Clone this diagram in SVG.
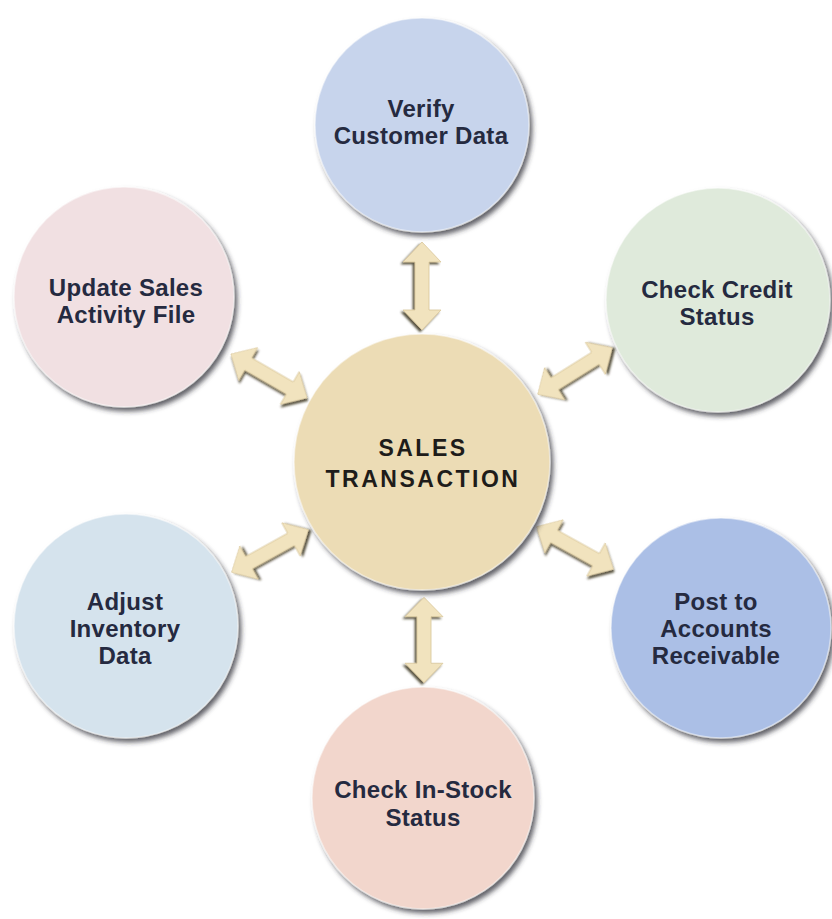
<svg xmlns="http://www.w3.org/2000/svg" width="832" height="919" viewBox="0 0 832 919">
  <defs>
    <filter id="shadow" x="-20%" y="-20%" width="140%" height="140%">
      <feDropShadow dx="3" dy="4" stdDeviation="2.5" flood-color="#2e2e36" flood-opacity="0.75"/>
    </filter>
    <filter id="ashadow" x="-30%" y="-60%" width="160%" height="220%">
      <feDropShadow dx="2" dy="2" stdDeviation="1" flood-color="#3e3420" flood-opacity="0.85"/>
    </filter>
    <path id="darrow" d="M -44 0 L -24 -19 L -24 -7 L 24 -7 L 24 -19 L 44 0 L 24 19 L 24 7 L -24 7 L -24 19 Z"/>
    <style>
      .node { filter: url(#shadow); stroke: #ffffff; stroke-opacity: 0.5; stroke-width: 1.5; }
      .lbl { font-family: "Liberation Sans", Arial, sans-serif; font-weight: bold; font-size: 24px; fill: #252a40; text-anchor: middle; letter-spacing: 0.3px; }
      .center { font-family: "Liberation Sans", Arial, sans-serif; font-weight: bold; font-size: 23px; fill: #1e1c1a; text-anchor: middle; letter-spacing: 2.5px; }
      .arrow { fill: #f1e3be; stroke: #d9c79a; stroke-width: 0.8; filter: url(#ashadow); }
    </style>
  </defs>
  <rect width="832" height="919" fill="#ffffff"/>

  <g id="connectors">
    <use href="#darrow" class="arrow" transform="translate(422,286) rotate(90)"/>
    <use href="#darrow" class="arrow" transform="translate(424,640) rotate(90) scale(0.97,1)"/>
    <use href="#darrow" class="arrow" transform="translate(269,376) rotate(30)"/>
    <use href="#darrow" class="arrow" transform="translate(575,371) rotate(-32)"/>
    <use href="#darrow" class="arrow" transform="translate(270,551) rotate(-29)"/>
    <use href="#darrow" class="arrow" transform="translate(575,548) rotate(29)"/>
  </g>

  <g id="verify-customer-data">
    <circle class="node" cx="422" cy="125" r="107" fill="#c7d4ec"/>
    <text class="lbl" x="421" y="117">Verify</text>
    <text class="lbl" x="421" y="144">Customer Data</text>
  </g>

  <g id="update-sales-activity-file">
    <circle class="node" cx="124" cy="297" r="110" fill="#f1e0e2"/>
    <text class="lbl" x="126" y="296">Update Sales</text>
    <text class="lbl" x="126" y="323">Activity File</text>
  </g>

  <g id="check-credit-status">
    <circle class="node" cx="718" cy="300" r="112" fill="#dfeadb"/>
    <text class="lbl" x="717" y="298">Check Credit</text>
    <text class="lbl" x="717" y="325">Status</text>
  </g>

  <g id="sales-transaction">
    <circle class="node" cx="422" cy="462" r="128" fill="#ecdcb5"/>
    <text class="center" x="423" y="456">SALES</text>
    <text class="center" x="423" y="487">TRANSACTION</text>
  </g>

  <g id="adjust-inventory-data">
    <circle class="node" cx="126" cy="626" r="112" fill="#d5e3ed"/>
    <text class="lbl" x="125" y="610">Adjust</text>
    <text class="lbl" x="125" y="637">Inventory</text>
    <text class="lbl" x="125" y="664">Data</text>
  </g>

  <g id="post-to-accounts-receivable">
    <circle class="node" cx="721" cy="628" r="110" fill="#abbfe6"/>
    <text class="lbl" x="716" y="610">Post to</text>
    <text class="lbl" x="716" y="637">Accounts</text>
    <text class="lbl" x="716" y="664">Receivable</text>
  </g>

  <g id="check-in-stock-status">
    <circle class="node" cx="423" cy="798" r="111" fill="#f2d6cc"/>
    <text class="lbl" x="423" y="798">Check In-Stock</text>
    <text class="lbl" x="423" y="826">Status</text>
  </g>
</svg>
